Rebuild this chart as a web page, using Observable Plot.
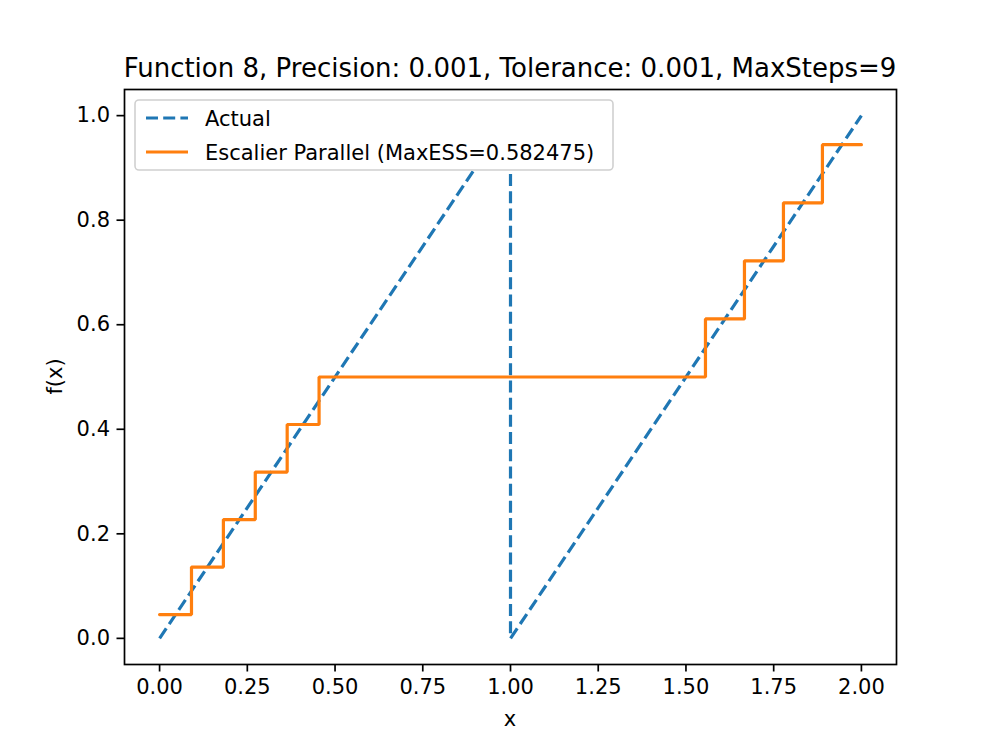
<!DOCTYPE html>
<html>
<head>
<meta charset="utf-8">
<script src="https://cdn.jsdelivr.net/npm/d3@7"></script>
<script src="https://cdn.jsdelivr.net/npm/@observablehq/plot@0.6"></script>
<style>
  html, body { margin: 0; padding: 0; background: #fff; }
  #chart svg { display: block; font-family: "DejaVu Sans", sans-serif; }
</style>
</head>
<body>
<div id="chart"></div>
<script>
// Data
const actualX = [0, 1, 1, 2];
const actualY = [0, 1, 0, 1];

const stepX = [0, 0.0909, 0.1818, 0.2727, 0.3636, 0.4545, 1.5556, 1.6667, 1.7778, 1.8889, 2.0];
const stepY = [0.0455, 0.1364, 0.2273, 0.3182, 0.4091, 0.5, 0.6111, 0.7222, 0.8333, 0.9444, 0.9444];

const xTicks = [0, 0.25, 0.5, 0.75, 1.0, 1.25, 1.5, 1.75, 2.0];
const yTicks = [0, 0.2, 0.4, 0.6, 0.8, 1.0];

const titleText = "Function 8, Precision: 0.001, Tolerance: 0.001, MaxSteps=9";
const xLabel = "x";
const yLabel = "f(x)";
const seriesNames = ["Actual", "Escalier Parallel (MaxESS=0.582475)"];
const colors = ["#1f77b4", "#ff7f0e"];

const actual = actualX.map((x, i) => ({x, y: actualY[i]}));
const steps = stepX.map((x, i) => ({x, y: stepY[i]}));

const W = 996, H = 747;
const mL = 124, mR = 100, mT = 89, mB = 83;

const plot = Plot.plot({
  width: W,
  height: H,
  marginLeft: mL,
  marginRight: mR,
  marginTop: mT,
  marginBottom: mB,
  style: {fontFamily: "DejaVu Sans, sans-serif", fontSize: "21px", color: "#000", background: "#fff"},
  x: {domain: [-0.1, 2.1]},
  y: {domain: [-0.05, 1.05]},
  marks: [
    Plot.line(actual, {x: "x", y: "y", stroke: colors[0], strokeWidth: 3.2, strokeDasharray: "12,5.2", strokeLinecap: "butt"}),
    Plot.line(steps, {x: "x", y: "y", curve: "step-after", stroke: colors[1], strokeWidth: 3.2, strokeLinejoin: "miter"}),
    Plot.frame({stroke: "#000", strokeWidth: 1.7}),
    Plot.axisX({ticks: xTicks, tickFormat: d3.format(".2f"), tickSize: 7.5, tickPadding: 7, strokeWidth: 1.7, label: null, fontSize: 21}),
    Plot.axisY({ticks: yTicks, tickFormat: d3.format(".1f"), tickSize: 7.5, tickPadding: 7, strokeWidth: 1.7, label: null, fontSize: 21})
  ]
});

document.getElementById("chart").appendChild(plot);

const svg = d3.select(plot);
// Title
svg.append("text")
  .attr("x", (mL + (W - mR)) / 2)
  .attr("y", 77)
  .attr("text-anchor", "middle")
  .attr("font-size", 26)
  .attr("fill", "#000")
  .text(titleText);
// Axis labels
svg.append("text")
  .attr("x", (mL + (W - mR)) / 2)
  .attr("y", 726)
  .attr("text-anchor", "middle")
  .attr("font-size", 21)
  .attr("fill", "#000")
  .text(xLabel);
svg.append("text")
  .attr("transform", `translate(62, ${(mT + (H - mB)) / 2}) rotate(-90)`)
  .attr("text-anchor", "middle")
  .attr("font-size", 21)
  .attr("fill", "#000")
  .text(yLabel);

// Legend
const lg = svg.append("g");
lg.append("rect")
  .attr("x", 135).attr("y", 100).attr("width", 478).attr("height", 70)
  .attr("rx", 4).attr("ry", 4)
  .attr("fill", "#fff").attr("fill-opacity", 1)
  .attr("stroke", "#d0d0d0").attr("stroke-width", 1.6);
const rowY = [118, 152];
seriesNames.forEach((name, i) => {
  lg.append("line")
    .attr("x1", 146).attr("x2", 188)
    .attr("y1", rowY[i]).attr("y2", rowY[i])
    .attr("stroke", colors[i]).attr("stroke-width", 3.2)
    .attr("stroke-dasharray", i === 0 ? "12,5.2" : null);
  lg.append("text")
    .attr("x", 205).attr("y", rowY[i])
    .attr("dy", "0.36em")
    .attr("text-anchor", "start")
    .attr("font-size", 21)
    .attr("fill", "#000")
    .text(name);
});
</script>
</body>
</html>
